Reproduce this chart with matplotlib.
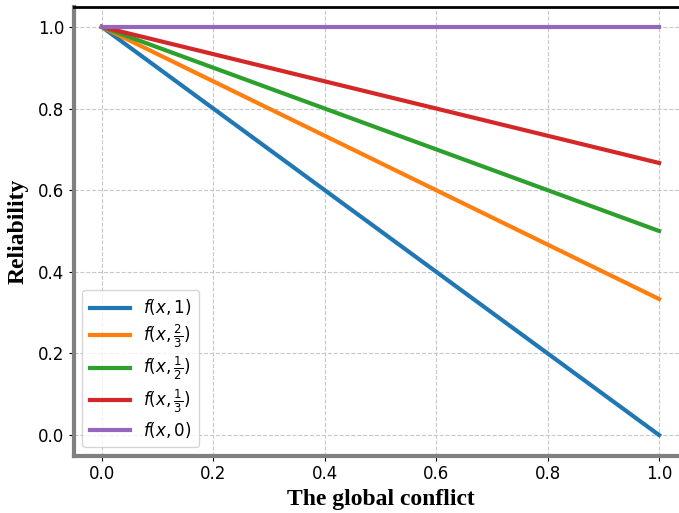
import numpy as np
import matplotlib
matplotlib.use("Agg")
import matplotlib.pyplot as plt

# Reliability f(x, a) = 1 - a * x over the global conflict x
conflict = [0.0, 1.0]
weights = [1.0, 2 / 3, 1 / 2, 1 / 3, 0.0]
labels = [r"$f(x,1)$", r"$f(x,\frac{2}{3})$", r"$f(x,\frac{1}{2})$",
          r"$f(x,\frac{1}{3})$", r"$f(x,0)$"]
colors = ["#1f77b4", "#ff7f0e", "#2ca02c", "#d62728", "#9467bd"]

fig = plt.figure(figsize=(6.79, 5.13), dpi=100)
ax = fig.add_axes([74 / 679, 1 - 455.5 / 513, 613 / 679, 449 / 513])

x = np.array(conflict)
for a, lab, c in zip(weights, labels, colors):
    ax.plot(x, 1 - a * x, color=c, lw=3, label=lab)

ax.set_xlim(-0.05, 1.05)
ax.set_ylim(-0.05, 1.05)
ax.set_xticks([0.0, 0.2, 0.4, 0.6, 0.8, 1.0])
ax.set_yticks([0.0, 0.2, 0.4, 0.6, 0.8, 1.0])
ax.grid(True, linestyle="--", color="#c8c8c8", lw=0.8)
ax.set_axisbelow(True)

ax.spines["left"].set_color("gray")
ax.spines["left"].set_linewidth(3)
ax.spines["bottom"].set_color("gray")
ax.spines["bottom"].set_linewidth(3)
ax.spines["top"].set_color("black")
ax.spines["top"].set_linewidth(2)
ax.spines["right"].set_visible(False)

ax.tick_params(labelsize=12)
ax.set_xlabel("The global conflict", fontfamily="Liberation Serif",
              fontweight="bold", fontsize=17, labelpad=4)
ax.set_ylabel("Reliability", fontfamily="Liberation Serif",
              fontweight="bold", fontsize=17, labelpad=7)

ax.legend(loc="lower left", fontsize=12, handlelength=2.4,
          labelspacing=0.3, borderpad=0.45, handletextpad=0.8)

fig.savefig("out.png", dpi=100)
